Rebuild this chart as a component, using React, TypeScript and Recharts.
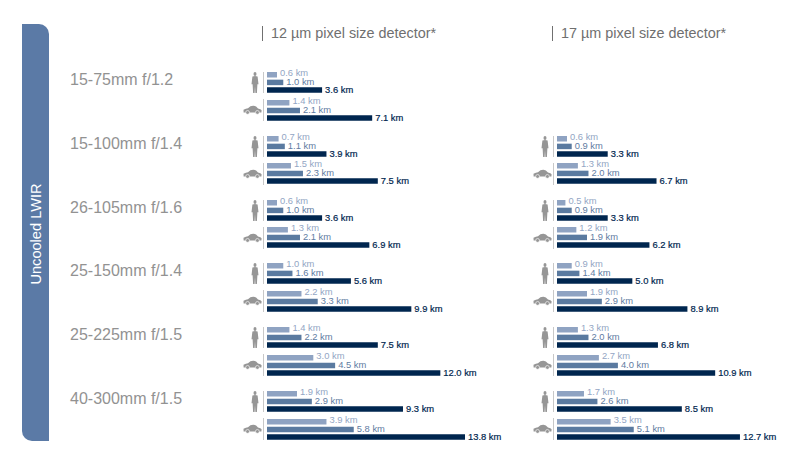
import React from "react";
import { Bar, BarChart, Cell, LabelList, XAxis, YAxis } from "recharts";

const lenses = ["15-75mm f/1.2", "15-100mm f/1.4", "26-105mm f/1.6", "25-150mm f/1.4", "25-225mm f/1.5", "40-300mm f/1.5"];
const rangeKinds = ["near", "mid", "far"];

// km per lens, three bars each; null where the lens has no figure
const person12 = [[0.6, 1.0, 3.6], [0.7, 1.1, 3.9], [0.6, 1.0, 3.6], [1.0, 1.6, 5.6], [1.4, 2.2, 7.5], [1.9, 2.9, 9.3]];
const car12 = [[1.4, 2.1, 7.1], [1.5, 2.3, 7.5], [1.3, 2.1, 6.9], [2.2, 3.3, 9.9], [3.0, 4.5, 12.0], [3.9, 5.8, 13.8]];
const person17 = [null, [0.6, 0.9, 3.3], [0.5, 0.9, 3.3], [0.9, 1.4, 5.0], [1.3, 2.0, 6.8], [1.7, 2.6, 8.5]];
const car17 = [null, [1.3, 2.0, 6.7], [1.2, 1.9, 6.2], [1.9, 2.9, 8.9], [2.7, 4.0, 10.9], [3.5, 5.1, 12.7]];

const barColors = ["#8fa3c2", "#5a7aa0", "#00264f"];
const labelColors = ["#93a6c4", "#5f7ca2", "#00264f"];
const labelShift = [-1.5, 0, 0];
const FONT = "'Liberation Sans', Arial, sans-serif";

// the source artwork squeezes long bars a little, so the axis is not quite linear
function bendScale(dom = [0, 18], rng = [0, 255]) {
  const scale: any = (v: number) => rng[0] + (rng[1] - rng[0]) * Math.pow(v / dom[1], 0.952);
  scale.domain = (d?: number[]) => (d ? bendScale(d, rng) : dom);
  scale.range = (r?: number[]) => (r ? bendScale(dom, r) : rng);
  scale.copy = () => bendScale(dom, rng);
  scale.ticks = () => dom;
  return scale;
}

function Person({ x, y }: { x: number; y: number }) {
  return (
    <svg width={8} height={21} viewBox="0 0 8 21" style={{ position: "absolute", left: x, top: y }}>
      <ellipse cx={4} cy={2} rx={1.5} ry={1.9} fill="#969696" />
      <path d="M1.4 4.4 Q4 3.6 6.6 4.4 L7.5 12.2 L6.4 12.2 L5.9 21 L4.4 21 L4 14.5 L3.6 21 L2.1 21 L1.6 12.2 L0.5 12.2 Z" fill="#969696" />
    </svg>
  );
}

function Car({ x, y }: { x: number; y: number }) {
  return (
    <svg width={19} height={10} viewBox="0 0 19 10" style={{ position: "absolute", left: x, top: y }}>
      <path d="M0.5 4.8 Q3 3.6 5 3.2 Q7.5 0.6 10.5 0.8 Q13 0.9 15 3.4 Q18 3.8 18.6 5.2 L18.4 7.4 L0.6 7.4 Z" fill="#969696" />
      <circle cx={4.6} cy={7.4} r={1.9} fill="#969696" stroke="#fff" strokeWidth={0.6} />
      <circle cx={14.4} cy={7.4} r={1.9} fill="#969696" stroke="#fff" strokeWidth={0.6} />
    </svg>
  );
}

function RangeBars({ values, x, y }: { values: number[]; x: number; y: number }) {
  const rows = rangeKinds.map((kind, i) => ({ kind, km: values[i] }));
  return (
    <div style={{ position: "absolute", left: x, top: y - 4 }}>
      <BarChart width={270} height={31} data={rows} layout="vertical" margin={{ top: 4, right: 15, bottom: 4, left: 0 }} barCategoryGap={0}>
        <XAxis type="number" hide domain={[0, 18]} scale={bendScale() as any} />
        <YAxis type="category" dataKey="kind" hide />
        <Bar dataKey="km" barSize={5.5} isAnimationActive={false}>
          {rows.map((r, i) => (
            <Cell key={r.kind} fill={barColors[i]} />
          ))}
          <LabelList
            dataKey="km"
            content={(p: any) => (
              <text
                x={p.x + p.width + 3}
                y={p.y + p.height / 2 + 3 + labelShift[p.index]}
                fontSize={9.4}
                fontFamily={FONT}
                fill={labelColors[p.index]}
                stroke={p.index === 2 ? labelColors[2] : "none"}
                strokeWidth={p.index === 2 ? 0.2 : 0}
              >
                {Number(p.value).toFixed(1)} km
              </text>
            )}
          />
        </Bar>
      </BarChart>
    </div>
  );
}

function Separator({ x, y, h }: { x: number; y: number; h: number }) {
  return <div style={{ position: "absolute", left: x, top: y, width: 1, height: h, background: "#c8c8c8" }} />;
}

function Panel({ title, left, person, car }: { title: string; left: number; person: (number[] | null)[]; car: (number[] | null)[] }) {
  return (
    <>
      <div style={{ position: "absolute", left: left - 5, top: 26, width: 1, height: 15, background: "#707070" }} />
      <div style={{ position: "absolute", left: left + 4, top: 25, fontFamily: FONT, fontSize: 14.4, color: "#6f6f6f", whiteSpace: "nowrap" }}>
        {title}
      </div>
      {lenses.map((lens, i) => {
        const top = 71 + i * 63.8;
        const p = person[i];
        const c = car[i];
        if (!p || !c) return null;
        return (
          <React.Fragment key={lens}>
            <Person x={left - 16} y={top + 1} />
            <Separator x={left - 4} y={top + 1} h={21} />
            <RangeBars values={p} x={left} y={top} />
            <Car x={left - 24} y={top + 34} />
            <Separator x={left - 4} y={top + 28} h={22} />
            <RangeBars values={c} x={left} y={top + 27.5} />
          </React.Fragment>
        );
      })}
    </>
  );
}

export default function App() {
  return (
    <div style={{ position: "fixed", left: 0, top: 0, width: 800, height: 465, background: "#fff", overflow: "hidden" }}>
      <div
        style={{
          position: "absolute",
          left: 22,
          top: 24,
          width: 27,
          height: 417,
          background: "#5b7aa6",
          borderRadius: "0 10px 0 10px",
        }}
      />
      <div
        style={{
          position: "absolute",
          left: 36,
          top: 234,
          transform: "translate(-50%, -50%) rotate(-90deg)",
          fontFamily: FONT,
          fontSize: 14.6,
          color: "#fff",
          whiteSpace: "nowrap",
        }}
      >
        Uncooled LWIR
      </div>
      {lenses.map((lens, i) => (
        <div
          key={lens}
          style={{ position: "absolute", left: 70, top: 71 + i * 63.8, fontFamily: FONT, fontSize: 16, color: "#929292", whiteSpace: "nowrap" }}
        >
          {lens}
        </div>
      ))}
      <Panel title="12 µm pixel size detector*" left={267} person={person12} car={car12} />
      <Panel title="17 µm pixel size detector*" left={557} person={person17} car={car17} />
    </div>
  );
}
